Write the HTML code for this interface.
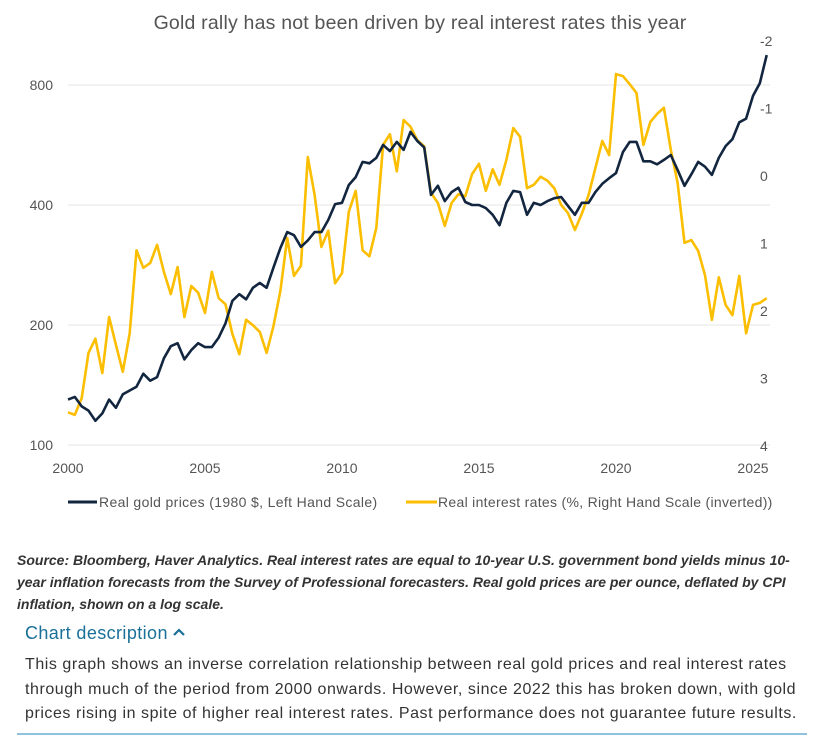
<!DOCTYPE html>
<html><head><meta charset="utf-8"><style>
body{margin:0;width:829px;height:744px;background:#fff;font-family:"Liberation Sans",sans-serif;position:relative;overflow:hidden}
.t{position:absolute;white-space:nowrap}
</style></head><body>
<svg id="chart" width="829" height="520" style="position:absolute;left:0;top:0" font-family="Liberation Sans, sans-serif"></svg>
<div class="t" style="left:17px;top:549px;font-size:14px;font-style:italic;font-weight:bold;color:#333;line-height:22px;white-space:normal;width:800px">Source: Bloomberg, Haver Analytics. Real interest rates are equal to 10-year U.S. government bond yields minus 10-year inflation forecasts from the Survey of Professional forecasters. Real gold prices are per ounce, deflated by CPI inflation, shown on a log scale.</div>
<div class="t" style="left:25px;top:623px;font-size:18px;letter-spacing:0.4px;color:#1a7098">Chart description <svg width="12" height="10" style="vertical-align:2px"><polyline points="1,8 6,3 11,8" fill="none" stroke="#1a7098" stroke-width="2.2"/></svg></div>
<div class="t" style="left:25px;top:653px;font-size:16px;letter-spacing:0.55px;color:#333;line-height:24.5px;white-space:normal;width:800px">This graph shows an inverse correlation relationship between real gold prices and real interest rates through much of the period from 2000 onwards. However, since 2022 this has broken down, with gold prices rising in spite of higher real interest rates. Past performance does not guarantee future results.</div>
<div style="position:absolute;left:17px;top:733px;width:790px;height:2px;background:#8fc3dc"></div>
<script>
const gold=[130,132,125,122,115,120,130,124,134,137,140,151,145,148,165,177,180,164,173,180,176,176,186,202,230,239,232,248,255,248,279,312,342,336,314,326,342,342,367,402,405,449,470,513,509,525,566,546,576,550,610,579,558,424,447,409,431,442,407,400,400,393,378,356,405,434,431,378,405,400,409,416,419,398,378,405,405,431,452,467,481,543,576,576,515,515,506,519,534,490,447,478,513,499,476,525,562,585,645,659,751,808,951];
const rates=[3.50,3.54,3.29,2.62,2.41,2.92,2.09,2.50,2.90,2.33,1.10,1.36,1.29,1.02,1.42,1.75,1.35,2.09,1.63,1.73,2.03,1.42,1.81,1.90,2.34,2.64,2.13,2.21,2.31,2.62,2.22,1.70,0.92,1.48,1.33,-0.28,0.28,1.05,0.81,1.59,1.44,0.53,0.22,1.10,1.19,0.77,-0.46,-0.62,-0.07,-0.83,-0.73,-0.53,-0.44,0.25,0.40,0.74,0.40,0.27,0.30,-0.03,-0.18,0.22,-0.10,0.13,-0.24,-0.71,-0.58,0.18,0.13,0.01,0.07,0.18,0.43,0.55,0.80,0.56,0.28,-0.12,-0.52,-0.31,-1.51,-1.48,-1.36,-1.23,-0.46,-0.80,-0.92,-1.01,-0.39,0.10,0.99,0.95,1.11,1.47,2.13,1.50,1.91,2.06,1.48,2.33,1.91,1.88,1.81];
const startYear=2000;
const leftTicks=[100,200,400,800];
const rightTicks=[-2,-1,0,1,2,3,4];
const xTicks=[2000,2005,2010,2015,2020,2025];
const NS="http://www.w3.org/2000/svg";
const svg=document.getElementById('chart');
function X(yr){return 68+(yr-2000)*27.4;}
function YL(v){return 445-120*Math.log2(v/100);}
function YR(r){return 176+67.5*r;}
function el(tag,attrs,txt){const e=document.createElementNS(NS,tag);for(const k in attrs)e.setAttribute(k,attrs[k]);if(txt!==undefined)e.textContent=txt;svg.appendChild(e);return e;}
let e=el('text',{x:420,y:29,'text-anchor':'middle','font-size':19.5,'letter-spacing':0.2,fill:'#555'},'Gold rally has not been driven by real interest rates this year');


leftTicks.forEach(v=>{
 let g=el('line',{x1:68,x2:770,y1:YL(v),y2:YL(v),stroke:'#e4e4e4','stroke-width':1});
 
 
 let t=el('text',{x:53,y:YL(v)+5,'text-anchor':'end','font-size':14,fill:'#555'},v);
 
 
});
rightTicks.forEach(v=>{
 let t=el('text',{x:760,y:YR(v)+5,'font-size':14,fill:'#555'},v);
 
 
});
xTicks.forEach(v=>{
 let t=el('text',{x:X(v),y:473,'text-anchor':'middle','font-size':14,fill:'#555'},v);
 
 
});
let rp=rates.map((r,i)=>X(startYear+i/4).toFixed(1)+','+YR(r).toFixed(1)).join(' ');
let gp=gold.map((v,i)=>X(startYear+i/4).toFixed(1)+','+YL(v).toFixed(1)).join(' ');
let l1=el('polyline',{points:rp,fill:'none',stroke:'#fcbe00','stroke-width':2.6,'stroke-linejoin':'round'});


let l2=el('polyline',{points:gp,fill:'none',stroke:'#13263f','stroke-width':2.6,'stroke-linejoin':'round'});


let a=el('line',{x1:68,x2:97,y1:502,y2:502,stroke:'#13263f','stroke-width':3});


let b=el('text',{x:99,y:507,'font-size':14,'letter-spacing':0.35,fill:'#555'},'Real gold prices (1980 $, Left Hand Scale)');


let c=el('line',{x1:406,x2:437,y1:502,y2:502,stroke:'#fcbe00','stroke-width':3});


let d=el('text',{x:438,y:507,'font-size':14,'letter-spacing':0.3,fill:'#555'},'Real interest rates (%, Right Hand Scale (inverted))');


</script>
</body></html>
